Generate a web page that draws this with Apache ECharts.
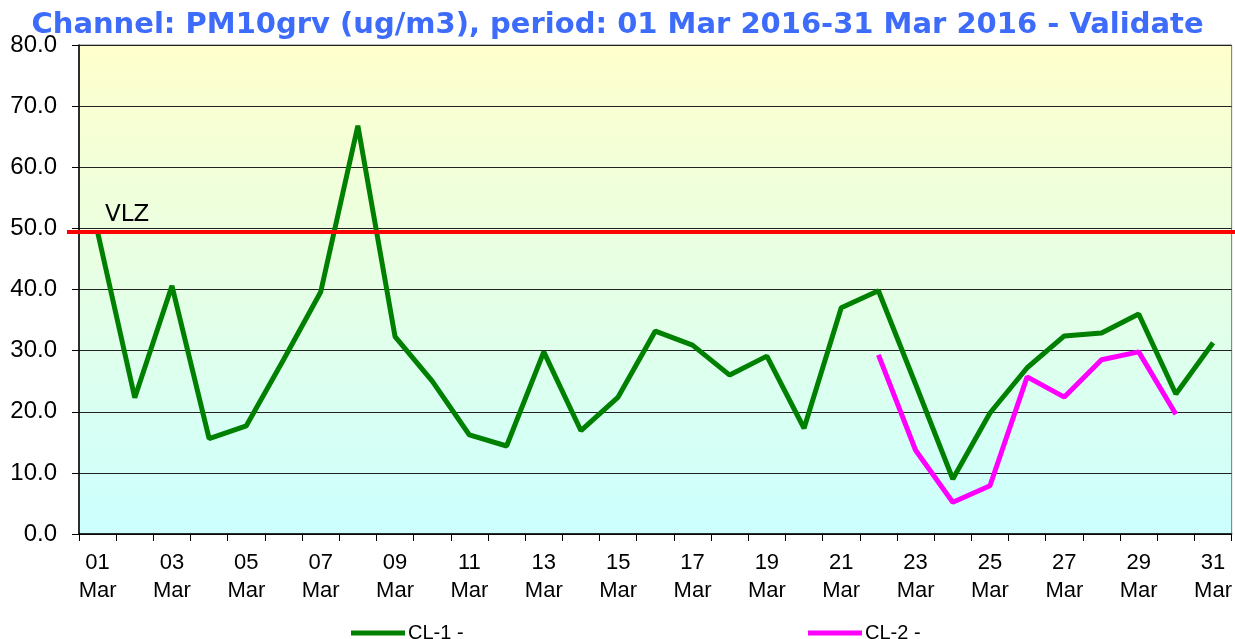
<!DOCTYPE html>
<html>
<head>
<meta charset="UTF-8">
<title>PM10grv</title>
<style>
    html,body{padding:0; margin:0; background:#fff;}
    #main{width:1235px; height:639px;}
</style>
<script src="https://cdn.jsdelivr.net/npm/echarts@6/dist/echarts.min.js"></script>
</head>
<body>
<div id="main"></div>
<script type="text/javascript">
    // data
    var days = ['01','02','03','04','05','06','07','08','09','10','11','12','13','14','15','16',
                '17','18','19','20','21','22','23','24','25','26','27','28','29','30','31'];
    var cl1 = [49.4, 22.3, 40.6, 15.6, 17.7, 28.5, 39.6, 66.8, 32.3, 25.0, 16.2, 14.4, 29.8, 16.9, 22.4, 33.2,
               30.9, 26.0, 29.1, 17.3, 37.0, 39.8, 24.5, 9.0, 19.8, 27.2, 32.4, 32.9, 36.0, 22.9, 31.3];
    var cl2 = [null, null, null, null, null, null, null, null, null, null, null, null, null, null, null, null,
               null, null, null, null, null, 29.3, 13.7, 5.2, 7.9, 25.7, 22.4, 28.5, 29.8, 19.6, null];
    var vlz = 49.4;

    var myChart = echarts.init(document.getElementById('main'));

    var option = {
        animation: false,
        title: {
            text: 'Channel: PM10grv (ug/m3), period: 01 Mar 2016-31 Mar 2016 - Validate',
            left: 'center',
            top: 6,
            textStyle: {
                fontFamily: 'DejaVu Sans',
                fontWeight: 'bold',
                fontSize: 29,
                color: '#3d6bfa'
            }
        },
        legend: [
            {
                data: ['CL-1 -'],
                left: 346,
                top: 618,
                itemWidth: 54,
                itemHeight: 5,
                itemGap: 4,
                icon: 'rect',
                textStyle: {fontFamily: 'Liberation Sans', fontSize: 20, color: '#000', padding: [0, 0, 0, -2]}
            },
            {
                data: ['CL-2 -'],
                left: 803,
                top: 618,
                itemWidth: 54,
                itemHeight: 5,
                icon: 'rect',
                textStyle: {fontFamily: 'Liberation Sans', fontSize: 20, color: '#000', padding: [0, 0, 0, -2]}
            }
        ],
        grid: {
            left: 79,
            right: 3,
            top: 45,
            bottom: 105,
            show: true,
            borderColor: '#777',
            borderWidth: 1,
            backgroundColor: {
                type: 'linear', x: 0, y: 0, x2: 0, y2: 1,
                colorStops: [
                    {offset: 0, color: '#ffffcc'},
                    {offset: 1, color: '#ccffff'}
                ]
            }
        },
        xAxis: {
            type: 'category',
            data: days,
            boundaryGap: true,
            axisLine: {lineStyle: {color: '#000', width: 1.5}},
            axisTick: {show: true, interval: 0, length: 7, lineStyle: {color: '#000'}},
            axisLabel: {
                interval: 1,
                formatter: function (v) { return v + '\nMar'; },
                fontFamily: 'Liberation Sans',
                fontSize: 22,
                lineHeight: 28,
                color: '#000',
                margin: 15
            },
            splitLine: {show: false}
        },
        yAxis: {
            type: 'value',
            min: 0,
            max: 80,
            interval: 10,
            axisLine: {show: true, lineStyle: {color: '#000', width: 1.5}},
            axisTick: {show: true, length: 7, lineStyle: {color: '#000'}},
            axisLabel: {
                formatter: function (v) { return v.toFixed(1); },
                fontFamily: 'Liberation Sans',
                fontSize: 24,
                color: '#000',
                margin: 22
            },
            splitLine: {show: true, lineStyle: {color: '#222', width: 1.2}}
        },
        series: [
            {
                name: 'CL-1 -',
                type: 'line',
                data: cl1,
                symbol: 'none',
                color: '#008000',
                lineStyle: {width: 5, color: '#008000'}
            },
            {
                name: 'CL-2 -',
                type: 'line',
                data: cl2,
                symbol: 'none',
                color: '#ff00ff',
                lineStyle: {width: 5, color: '#ff00ff'}
            }
        ]
    };
    myChart.setOption(option);

    // VLZ limit line runs past the plot edges, so it is placed with the axis scale
    var yv = myChart.convertToPixel({yAxisIndex: 0}, vlz);
    myChart.setOption({
        graphic: [
            {
                type: 'line',
                shape: {x1: 67, y1: yv, x2: 1235, y2: yv},
                style: {stroke: '#ff0000', lineWidth: 4},
                z: 100,
                silent: true
            },
            {
                type: 'text',
                x: 105,
                y: yv - 6,
                style: {
                    text: 'VLZ',
                    fontFamily: 'DejaVu Sans',
                    fontSize: 23,
                    fill: '#000',
                    textVerticalAlign: 'bottom'
                },
                z: 100,
                silent: true
            }
        ]
    });
</script>
</body>
</html>
